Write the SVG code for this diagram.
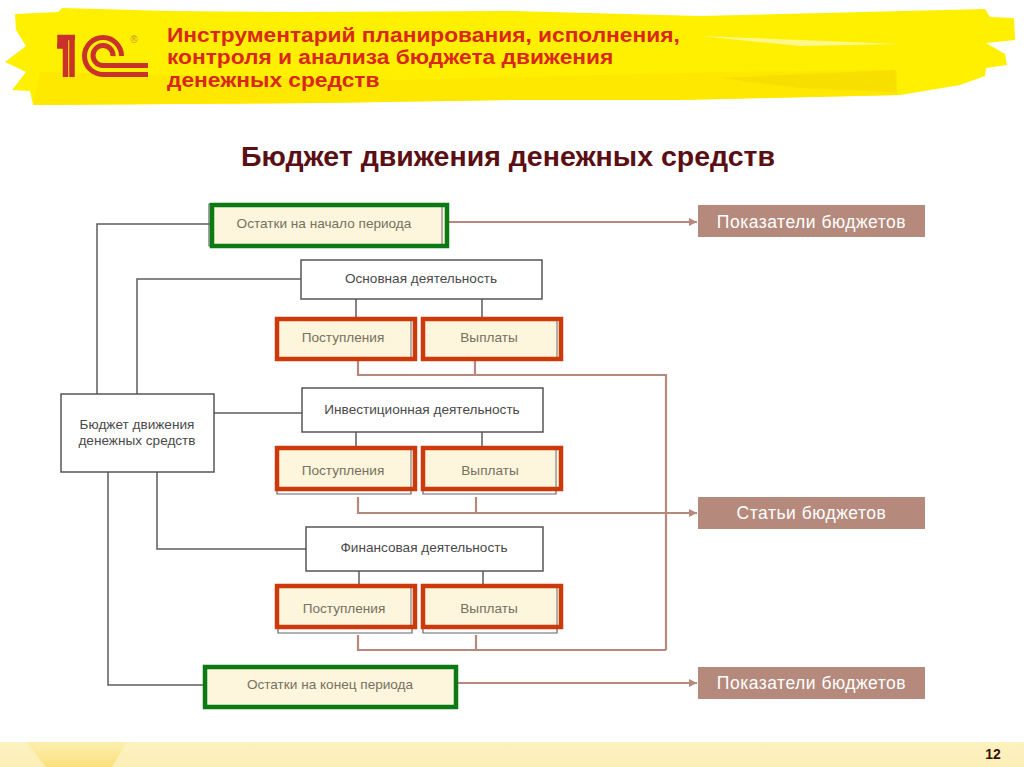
<svg xmlns="http://www.w3.org/2000/svg" width="1024" height="767" viewBox="0 0 1024 767">
<style>
text{font-family:"Liberation Sans",Arial,sans-serif;text-anchor:middle}
.box{fill:#fff;stroke:#555;stroke-width:1.5}
.dk{fill:#4a4a4a;font-size:13.6px}
.lt{fill:#77715f;font-size:13.6px}
.in{fill:#fdf5dc}
.red{fill:none;stroke:#cc3a0c;stroke-width:4.5}
.grn{fill:none;stroke:#0b7a12;stroke-width:4.5}
.edge{stroke:#999;stroke-width:1.5;fill:none}
.sh{fill:none;stroke:#666;stroke-width:1.2}
.tag{fill:#b58a7c}
.tt{fill:#fff;font-size:17.5px;letter-spacing:.5px}
.c{fill:none;stroke:#5c5c5c;stroke-width:1.5}
.b{fill:none;stroke:#b58a7c;stroke-width:2.2}
.h{font-weight:bold;font-size:19.5px;fill:#d9281a;text-anchor:start}
</style>
<defs>
<marker id="ah" markerUnits="userSpaceOnUse" markerWidth="9" markerHeight="9" refX="8" refY="4.5" orient="auto"><path d="M0 0.5L8 4.5L0 8.5z" fill="#b58a7c"/></marker>
<linearGradient id="ft" x1="0" y1="0" x2="0" y2="1"><stop offset="0" stop-color="#fdf2c0"/><stop offset="1" stop-color="#fbeeb8"/></linearGradient>
<linearGradient id="bl" x1="0" y1="0" x2="0" y2="1"><stop offset="0" stop-color="#fde88e" stop-opacity=".35"/><stop offset="1" stop-color="#fbe07a"/></linearGradient>
</defs>
<rect width="1024" height="767" fill="#fff"/>
<g id="banner">
<path fill="#fff000" d="M15 14L58 12L62 8L170 11L300 12L512 11L700 16L985 9L990 17L1014 18L1015 40L986 43L1005 54L1007 65L986 68L985 76L960 85L900 95L680 100L512 100L320 103L33 105L30 91L12 90L26 72L5 62L26 46L16 30z"/>
<path fill="#fde500" d="M40 72L400 80L720 72L897 70L897 95L680 100L512 100L320 103L33 105z" opacity=".75"/>
<path fill="#fff78a" d="M700 36L900 44L800 46z"/>
<path fill="#f5dc00" d="M720 78L895 70L897 92L800 88z" opacity=".8"/>
</g>
<g id="logo" fill="none" stroke="#c8322a">
<path d="M57 46H65.500M60 48.500V37.500H75M65.500 38V77M72 38V77" stroke-width="5.500"/>
<path d="M121.500 56A18.500 18.500 0 1 0 103 74.500H148" stroke-width="5"/>
<path d="M113 56A10 10 0 1 0 103 65.500H148" stroke-width="5"/>
</g>
<text x="134" y="43" font-size="10" fill="#c89030">®</text>
<text class="h" transform="translate(167 42) scale(1.166 1)">Инструментарий планирования, исполнения,</text>
<text class="h" transform="translate(167 64) scale(1.166 1)">контроля и анализа бюджета движения</text>
<text class="h" transform="translate(167 87) scale(1.166 1)">денежных средств</text>
<text x="508" y="166" font-size="28.5" font-weight="bold" fill="#5a0f14">Бюджет движения денежных средств</text>

<g id="connectors">
<path class="c" d="M210 224H97V394M301 279H137V394M214 413H302M108 472V685H203M157 472V549H306"/>
<path class="c" d="M356 299V317M482 299V317M356 432V446M482 432V446M359 571V584M483 571V584"/>
<path class="b" d="M358 361V375H666V650M475 361V375"/>
<path class="b" d="M476 497V513"/>
<path class="b" d="M358 497V513H697" marker-end="url(#ah)"/>
<path class="b" d="M358 635V650H666M476 635V650"/>
<path class="b" d="M449 222H697" marker-end="url(#ah)"/>
<path class="b" d="M458 683H697" marker-end="url(#ah)"/>
</g>

<g id="n-start">
<path class="sh" d="M212 204H209V246H212"/>
<rect class="in" x="212" y="205" width="235" height="41"/>
<path class="edge" d="M442 207V244"/>
<rect class="grn" x="212" y="205" width="235" height="41"/>
<text class="lt" x="324" y="228">Остатки на начало периода</text>
</g>
<g id="n-main"><rect class="box" x="301" y="260" width="241" height="39"/><text class="dk" x="421" y="283">Основная деятельность</text></g>
<g id="n-main-in"><rect class="in" x="277" y="319" width="138" height="40"/><path class="edge" d="M411 321V357"/><rect class="red" x="277" y="319" width="138" height="40"/><text class="lt" x="343" y="342">Поступления</text></g>
<g id="n-main-out"><rect class="in" x="423" y="319" width="138" height="40"/><path class="edge" d="M557 321V357"/><rect class="red" x="423" y="319" width="138" height="40"/><text class="lt" x="489" y="342">Выплаты</text></g>

<g id="n-root"><rect class="box" x="61" y="394" width="153" height="78"/><text class="dk" x="137" y="429">Бюджет движения</text><text class="dk" x="137" y="445">денежных средств</text></g>

<g id="n-inv"><rect class="box" x="302" y="388" width="241" height="44"/><text class="dk" x="422" y="414">Инвестиционная деятельность</text></g>
<g id="n-inv-in"><path class="sh" d="M277 491V494H411V491"/><rect class="in" x="277" y="448" width="138" height="41"/><path class="edge" d="M411 450V487"/><rect class="red" x="277" y="448" width="138" height="41"/><text class="lt" x="343" y="475">Поступления</text></g>
<g id="n-inv-out"><path class="sh" d="M423 491V494H556V491"/><rect class="in" x="423" y="448" width="138" height="41"/><path class="edge" d="M556 450V487"/><rect class="red" x="423" y="448" width="138" height="41"/><text class="lt" x="490" y="475">Выплаты</text></g>

<g id="n-fin"><rect class="box" x="306" y="527" width="237" height="44"/><text class="dk" x="424" y="552">Финансовая деятельность</text></g>
<g id="n-fin-in"><path class="sh" d="M278 629V633H412V629"/><rect class="in" x="277" y="586" width="138" height="41"/><path class="edge" d="M411 588V625"/><rect class="red" x="277" y="586" width="138" height="41"/><text class="lt" x="344" y="613">Поступления</text></g>
<g id="n-fin-out"><path class="sh" d="M423 629V633H557V629"/><rect class="in" x="423" y="586" width="138" height="41"/><path class="edge" d="M557 588V625"/><rect class="red" x="423" y="586" width="138" height="41"/><text class="lt" x="489" y="613">Выплаты</text></g>

<g id="n-end"><rect class="in" x="205" y="667" width="251" height="40"/><rect class="grn" x="205" y="667" width="251" height="40"/><text class="lt" x="330" y="689">Остатки на конец периода</text></g>

<g id="t1"><rect class="tag" x="698" y="205" width="227" height="32"/><text class="tt" x="811.500" y="228">Показатели бюджетов</text></g>
<g id="t2"><rect class="tag" x="698" y="497" width="227" height="32"/><text class="tt" x="811.500" y="519">Статьи бюджетов</text></g>
<g id="t3"><rect class="tag" x="698" y="667" width="227" height="32"/><text class="tt" x="811.500" y="689">Показатели бюджетов</text></g>

<g id="footer">
<rect x="0" y="742" width="1024" height="25" fill="url(#ft)"/>
<path d="M26 742H127L112 767H46z" fill="url(#bl)"/>
<text x="993" y="759" font-size="14" font-weight="bold" fill="#3a1208">12</text>
</g>
</svg>
